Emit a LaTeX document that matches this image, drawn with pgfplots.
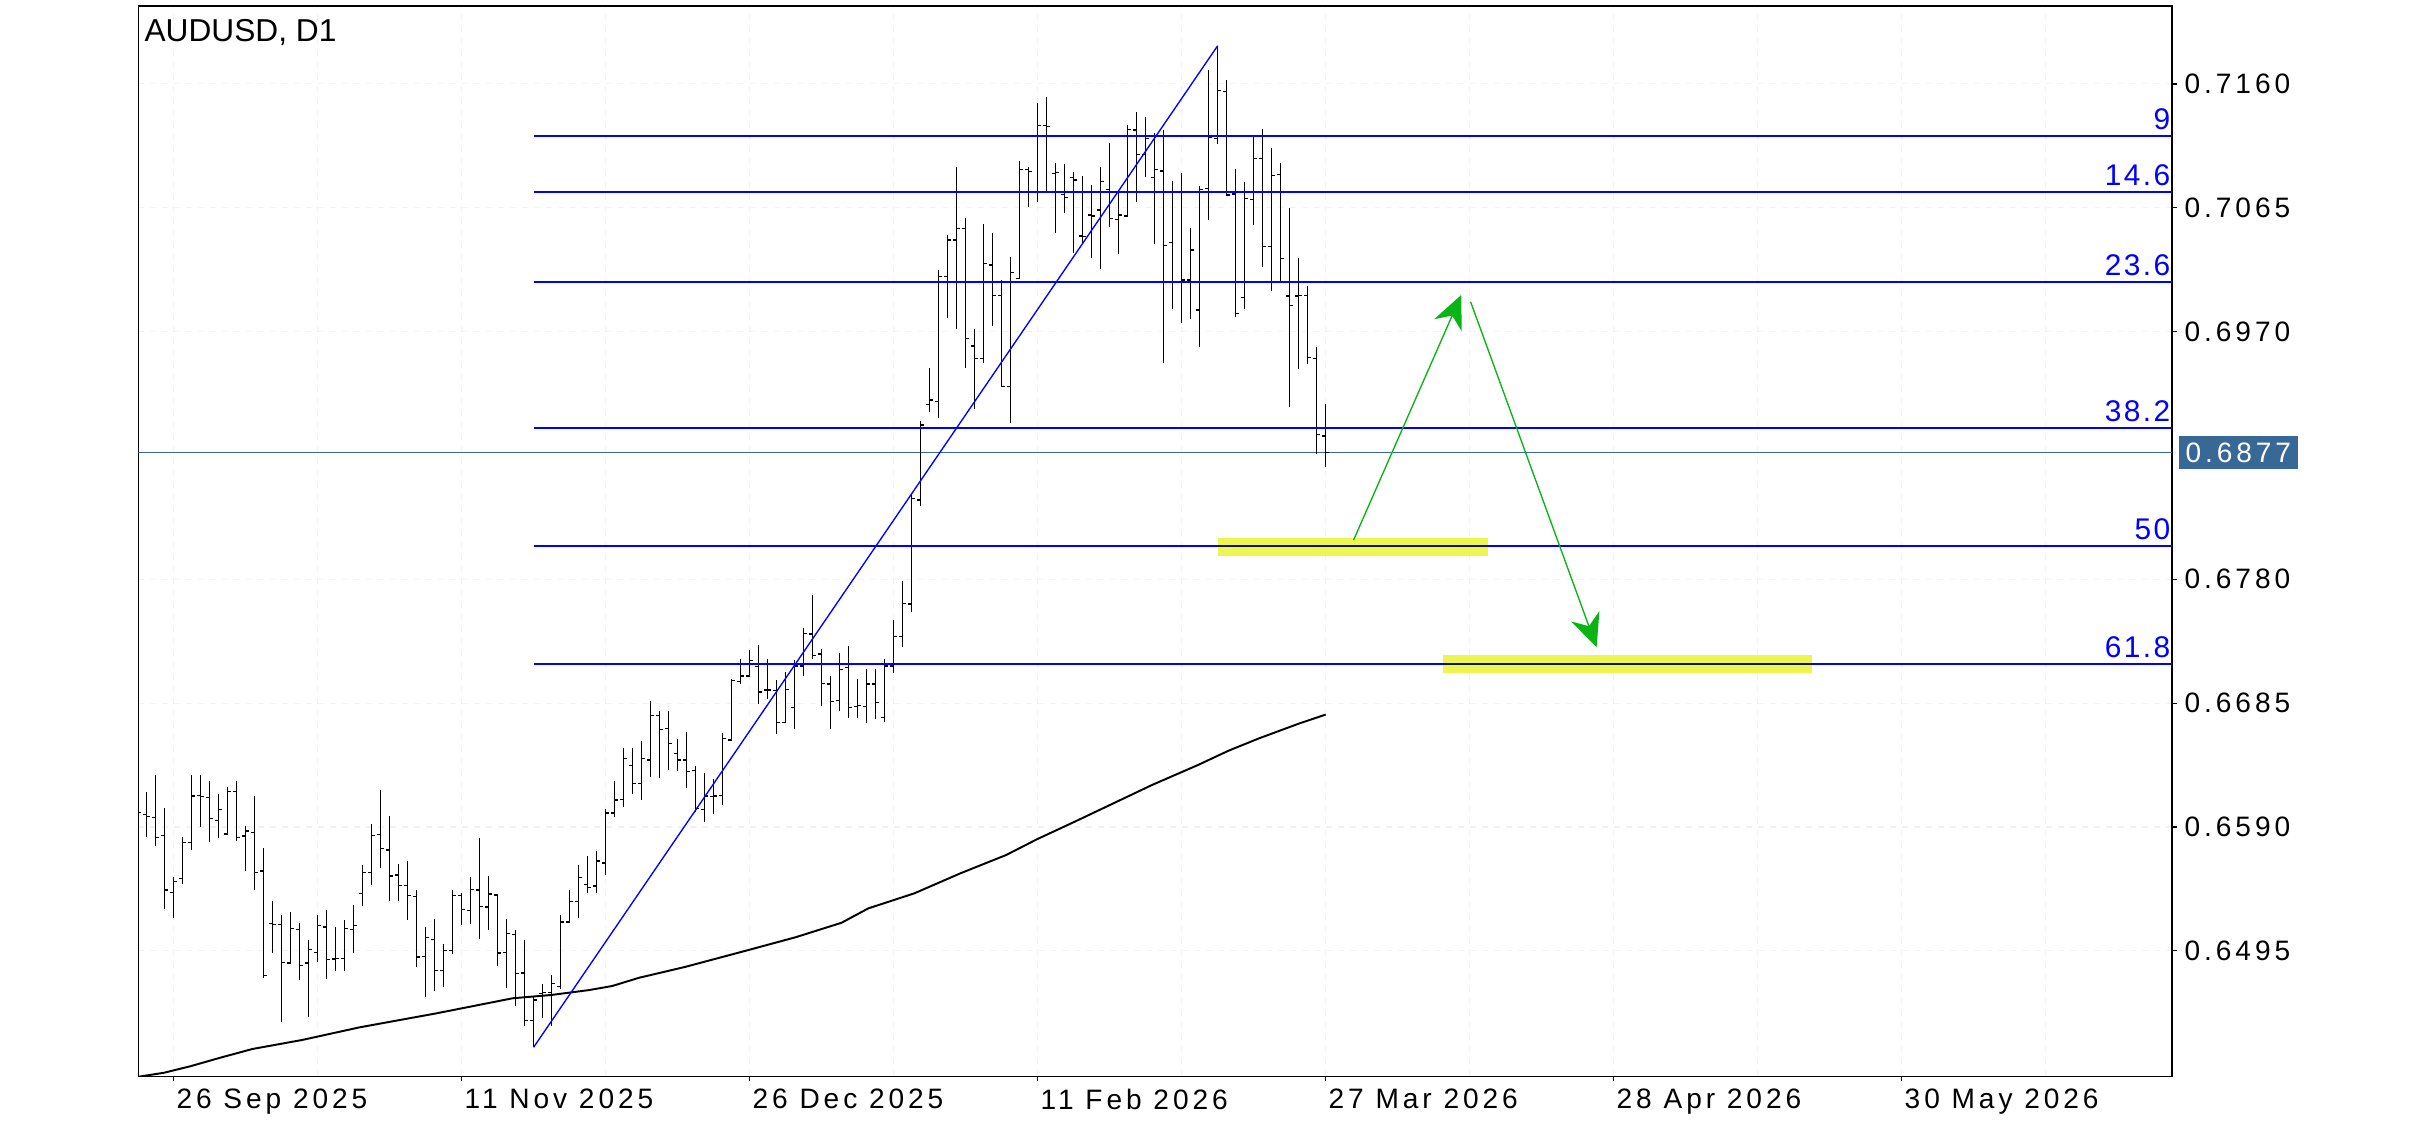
\documentclass[border=0pt]{standalone}
\usepackage{fontspec}
\setmainfont{Liberation Sans}
\newfontfamily\tickfont[LetterSpace=14]{Liberation Sans}
\newfontfamily\fibfont[LetterSpace=8]{Liberation Sans}
\usepackage{pgfplots}
\pgfplotsset{compat=1.18}
\usepackage{pgfplotstable}
\usetikzlibrary{arrows.meta}
\definecolor{fibblue}{RGB}{0,0,255}
\definecolor{pricecol}{RGB}{56,104,150}
\definecolor{hlyellow}{RGB}{237,245,80}
\definecolor{arrowgreen}{RGB}{10,180,20}
\definecolor{navyline}{RGB}{20,20,80}

\pgfplotstableread{
i o h l c
-4 0.66040 0.66120 0.65960 0.66010
-3 0.65997 0.66166 0.65826 0.65979
-2 0.65974 0.66299 0.65757 0.65821
-1 0.65836 0.66043 0.65274 0.65417
0 0.65399 0.65519 0.65204 0.65481
1 0.65506 0.65821 0.65465 0.65780
2 0.65780 0.66299 0.65726 0.66138
3 0.66140 0.66299 0.65897 0.66133
4 0.66128 0.66253 0.65788 0.65964
5 0.65951 0.66151 0.65813 0.66036
6 0.65846 0.66209 0.65846 0.66174
7 0.66171 0.66253 0.65790 0.65821
8 0.65831 0.65910 0.65565 0.65869
9 0.65857 0.66138 0.65419 0.65552
10 0.65563 0.65736 0.64739 0.64760
11 0.65161 0.65332 0.64931 0.65151
12 0.65153 0.65225 0.64407 0.64862
13 0.64857 0.65248 0.64854 0.65123
14 0.65115 0.65164 0.64729 0.64839
15 0.64857 0.65033 0.64445 0.64962
16 0.64939 0.65225 0.64862 0.65146
17 0.65133 0.65263 0.64737 0.64885
18 0.64887 0.65136 0.64798 0.64890
19 0.64890 0.65187 0.64798 0.65123
20 0.65115 0.65302 0.64936 0.65146
21 0.65391 0.65606 0.65297 0.65550
22 0.65550 0.65923 0.65455 0.65836
23 0.65844 0.66184 0.65588 0.65736
24 0.65724 0.65984 0.65335 0.65524
25 0.65532 0.65616 0.65335 0.65453
26 0.65453 0.65639 0.65189 0.65376
27 0.65366 0.65417 0.64829 0.64903
28 0.64908 0.65136 0.64599 0.65054
29 0.65038 0.65192 0.64645 0.64798
30 0.64798 0.65003 0.64675 0.64954
31 0.64954 0.65417 0.64926 0.65376
32 0.65376 0.65391 0.65151 0.65268
33 0.65258 0.65519 0.65159 0.65422
34 0.65417 0.65816 0.65044 0.65291
35 0.65286 0.65524 0.65110 0.65386
36 0.65378 0.65386 0.64836 0.64934
37 0.64936 0.65192 0.64665 0.65084
38 0.65074 0.65110 0.64529 0.64778
39 0.64780 0.65033 0.64376 0.64417
40 0.64414 0.64603 0.64210 0.64573
41 0.64624 0.64695 0.64437 0.64631
42 0.64629 0.64764 0.64376 0.64700
43 0.64675 0.65222 0.64660 0.65171
44 0.65171 0.65416 0.65166 0.65329
45 0.65329 0.65608 0.65204 0.65514
46 0.65460 0.65677 0.65391 0.65437
47 0.65447 0.65718 0.65391 0.65639
48 0.65624 0.66038 0.65534 0.66007
49 0.66007 0.66252 0.65979 0.66107
50 0.66112 0.66506 0.66056 0.66426
51 0.66370 0.66506 0.66153 0.66235
52 0.66235 0.66559 0.66109 0.66424
53 0.66414 0.66866 0.66286 0.66756
54 0.66756 0.66792 0.66278 0.66649
55 0.66654 0.66792 0.66337 0.66541
56 0.66465 0.66575 0.66332 0.66414
57 0.66414 0.66628 0.66201 0.66327
58 0.66332 0.66368 0.66015 0.66040
59 0.66035 0.66316 0.65941 0.66137
60 0.66132 0.66265 0.66002 0.66137
61 0.66142 0.66618 0.66071 0.66580
62 0.66567 0.67032 0.66559 0.67022
63 0.67017 0.67186 0.66994 0.67058
64 0.67058 0.67257 0.67048 0.67176
65 0.67130 0.67296 0.66841 0.66935
66 0.66951 0.67186 0.66879 0.66951
67 0.66946 0.67027 0.66610 0.66702
68 0.66702 0.67089 0.66702 0.66956
69 0.66818 0.67181 0.66649 0.67135
70 0.67135 0.67424 0.67055 0.67385
71 0.67380 0.67677 0.67186 0.67216
72 0.67227 0.67262 0.66830 0.67002
73 0.66997 0.67058 0.66649 0.66861
74 0.66869 0.67232 0.66789 0.67109
75 0.67124 0.67288 0.66738 0.66815
76 0.66827 0.67035 0.66738 0.66829
77 0.66823 0.67109 0.66695 0.66997
78 0.66997 0.67109 0.66728 0.66853
79 0.66738 0.67186 0.66702 0.67135
80 0.67135 0.67488 0.67084 0.67360
81 0.67360 0.67787 0.67283 0.67615
82 0.67610 0.68459 0.67552 0.68421
83 0.68408 0.69012 0.68365 0.68983
84 0.69142 0.69418 0.69086 0.69175
85 0.69162 0.70172 0.69035 0.70121
86 0.70121 0.70441 0.69802 0.70403
87 0.70403 0.70965 0.69717 0.70492
88 0.70492 0.70569 0.69423 0.69648
89 0.69589 0.69717 0.69104 0.69495
90 0.69495 0.70525 0.69456 0.70224
91 0.70211 0.70459 0.69743 0.69976
92 0.69976 0.70096 0.69272 0.69278
93 0.69278 0.70270 0.68996 0.70155
94 0.70109 0.71009 0.70101 0.70945
95 0.70945 0.70965 0.70658 0.70927
96 0.70773 0.71456 0.70697 0.71280
97 0.71280 0.71497 0.70781 0.71272
98 0.70914 0.70991 0.70459 0.70919
99 0.70750 0.70986 0.70612 0.70727
100 0.70883 0.70927 0.70305 0.70863
101 0.70433 0.70894 0.70377 0.70428
102 0.70594 0.70824 0.70267 0.70587
103 0.70633 0.70965 0.70178 0.70850
104 0.70791 0.71144 0.70505 0.70569
105 0.70561 0.70773 0.70293 0.70594
106 0.70587 0.71285 0.70582 0.71252
107 0.71246 0.71387 0.70697 0.71060
108 0.71060 0.71344 0.70888 0.71182
109 0.70883 0.71220 0.70372 0.70945
110 0.70932 0.71246 0.69462 0.70362
111 0.70385 0.70855 0.69876 0.70770
112 0.70773 0.70914 0.69768 0.70096
113 0.70096 0.70492 0.69799 0.70326
114 0.69866 0.70817 0.69584 0.70791
115 0.70796 0.71707 0.70556 0.71188
116 0.71183 0.71893 0.71139 0.71548
117 0.71543 0.71630 0.70740 0.70748
118 0.70755 0.70947 0.69814 0.69840
119 0.69963 0.70848 0.69876 0.70720
120 0.70715 0.71200 0.70520 0.71025
121 0.71025 0.71254 0.70198 0.70351
122 0.70351 0.71108 0.70014 0.70896
123 0.70906 0.70991 0.70075 0.70262
124 0.69973 0.70646 0.69124 0.69900
125 0.69973 0.70262 0.69410 0.69978
126 0.69978 0.70050 0.69449 0.69500
127 0.69495 0.69579 0.68759 0.68912
128 0.68899 0.69145 0.68664 0.68770
}\ohlc

\pgfplotstableread{
i p
-3.92 0.63984
-1.03 0.64015
1.94 0.64066
4.92 0.64125
8.76 0.64197
14.28 0.64266
20.66 0.64363
29.17 0.64470
37.67 0.64586
41.92 0.64611
46.17 0.64649
48.72 0.64680
51.70 0.64743
56.80 0.64826
63.16 0.64943
69.10 0.65054
74.20 0.65165
77.20 0.65276
82.30 0.65391
87.40 0.65544
92.50 0.65685
95.90 0.65805
100.10 0.65940
104.80 0.66094
108.70 0.66222
113.80 0.66375
117.20 0.66485
120.60 0.66580
125.10 0.66695
128.00 0.66762
}\ma

\begin{document}
\begin{tikzpicture}
\begin{axis}[
  at={(0,0)}, anchor=south west,
  scale only axis, width=677.9bp, height=356.7bp,
  xmin=-3.92, xmax=222.03, ymin=0.63989, ymax=0.72198,
  axis line style={black, line width=0.4bp},
  xtick={0,32,64,96,128,160,192},
  xticklabels={26 Sep 2025,11 Nov 2025,26 Dec 2025,11 Feb 2026,27 Mar 2026,28 Apr 2026,30 May 2026},
  minor xtick={16,48,80,112,144,176,208},
  ytick={0.6495,0.6590,0.6685,0.6780,0.6970,0.7065,0.7160},
  yticklabels={0.6495,0.6590,0.6685,0.6780,0.6970,0.7065,0.7160},
  xtick pos=left, ytick pos=right, yticklabel pos=right,
  tick align=outside, major tick length=1.7bp, minor tick length=0pt,
  tick style={black, line width=0.4bp},
  xmajorgrids, xminorgrids, ymajorgrids,
  grid style={black!5, line width=0.35bp, dash pattern=on 2bp off 2bp},
  minor grid style={black!5, line width=0.35bp, dash pattern=on 2bp off 2bp},
  ticklabel style={font=\tickfont\fontsize{9.4}{11}\selectfont, inner sep=0pt},
  xticklabel style={anchor=north west, yshift=-2.3bp, xshift=0.8bp},
  yticklabel style={anchor=west, xshift=2.3bp},
  clip=true,
]
% current price line
\addplot[pricecol, line width=0.35bp, forget plot] coordinates {(-3.92,0.6877) (222.03,0.6877)};
% OHLC bars: high-low
\addplot[draw=none, forget plot, error bars/.cd, y dir=plus, y explicit, error mark=none,
  error bar style={draw=black, line width=0.4bp}]
  table[x=i, y=l, y error plus expr=\thisrow{h}-\thisrow{l}] {\ohlc};
% open ticks
\addplot[draw=none, forget plot, error bars/.cd, x dir=minus, x explicit, error mark=none,
  error bar style={draw=black, line width=0.4bp}]
  table[x=i, y=o, x error minus expr=0.42] {\ohlc};
% close ticks
\addplot[draw=none, forget plot, error bars/.cd, x dir=plus, x explicit, error mark=none,
  error bar style={draw=black, line width=0.4bp}]
  table[x=i, y=c, x error plus expr=0.42] {\ohlc};
% moving average
\addplot[black, line width=0.65bp, forget plot] table[x=i, y=p] {\ma};
% fibonacci levels
\addplot[fibblue, line width=0.7bp] coordinates {(40,0.71202) (222.03,0.71202)};
\addplot[fibblue, line width=0.7bp] coordinates {(40,0.70772) (222.03,0.70772)};
\addplot[fibblue, line width=0.7bp] coordinates {(40,0.70081) (222.03,0.70081)};
\addplot[fibblue, line width=0.7bp] coordinates {(40,0.68960) (222.03,0.68960)};
\addplot[fibblue, line width=0.7bp] coordinates {(40,0.68054) (222.03,0.68054)};
\addplot[fibblue, line width=0.7bp] coordinates {(40,0.67147) (222.03,0.67147)};
% trend line
\addplot[fibblue, line width=0.45bp] coordinates {(40,0.64210) (116,0.71893)};
% highlight zones
\addplot[fill=hlyellow, draw=none] coordinates {(116,0.67978) (146,0.67978) (146,0.68119) (116,0.68119)} --cycle;
\addplot[navyline, line width=0.7bp] coordinates {(116,0.68054) (146,0.68054)};
\addplot[fill=hlyellow, draw=none] coordinates {(141,0.67083) (182,0.67083) (182,0.67219) (141,0.67219)} --cycle;
\addplot[navyline, line width=0.7bp] coordinates {(141,0.67147) (182,0.67147)};
% arrows
\addplot[arrowgreen, line width=0.45bp, -{Stealth[length=11bp,width=10bp,inset=3.5bp]}] coordinates {(131.1,0.68101) (143.06,0.69981)};
\addplot[arrowgreen, line width=0.45bp, -{Stealth[length=11bp,width=10bp,inset=3.5bp]}] coordinates {(144.1,0.69929) (158.1,0.67278)};
% fib labels
\node[anchor=base east, inner sep=0pt, text=fibblue, font=\fibfont\fontsize{10}{12}\selectfont, xshift=-0.4bp, yshift=2.2bp] at (axis cs:222.03,0.71202) {9};
\node[anchor=base east, inner sep=0pt, text=fibblue, font=\fibfont\fontsize{10}{12}\selectfont, xshift=-0.4bp, yshift=2.2bp] at (axis cs:222.03,0.70772) {14.6};
\node[anchor=base east, inner sep=0pt, text=fibblue, font=\fibfont\fontsize{10}{12}\selectfont, xshift=-0.4bp, yshift=2.2bp] at (axis cs:222.03,0.70081) {23.6};
\node[anchor=base east, inner sep=0pt, text=fibblue, font=\fibfont\fontsize{10}{12}\selectfont, xshift=-0.4bp, yshift=2.2bp] at (axis cs:222.03,0.68960) {38.2};
\node[anchor=base east, inner sep=0pt, text=fibblue, font=\fibfont\fontsize{10}{12}\selectfont, xshift=-0.4bp, yshift=2.2bp] at (axis cs:222.03,0.68054) {50};
\node[anchor=base east, inner sep=0pt, text=fibblue, font=\fibfont\fontsize{10}{12}\selectfont, xshift=-0.4bp, yshift=2.2bp] at (axis cs:222.03,0.67147) {61.8};
% title
\node[anchor=north west, inner sep=0pt, font=\fontsize{10.6}{12}\selectfont, xshift=1.9bp, yshift=-4.3bp] at (rel axis cs:0,1) {AUDUSD, D1};
\coordinate (cp) at (axis cs:222.03,0.6877);
\end{axis}
\node[anchor=west, fill=pricecol, text=white, inner xsep=2.3bp, inner ysep=0pt, minimum height=11bp, font=\tickfont\fontsize{9.4}{11}\selectfont] at ([xshift=2bp]cp) {0.6877};
\pgfresetboundingbox
\path[use as bounding box] (-46.1bp,-16.3bp) rectangle (765.9bp,358.7bp);
\end{tikzpicture}
\end{document}
